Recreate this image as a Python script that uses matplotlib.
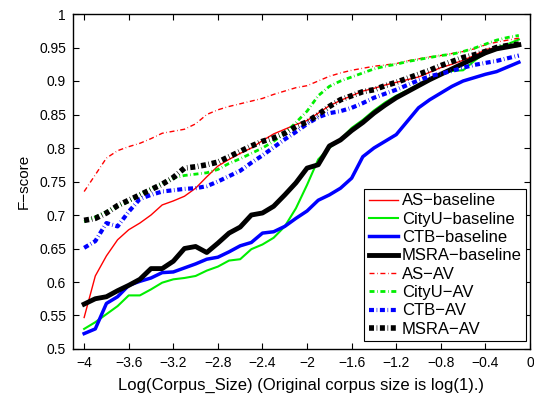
import numpy as np
import matplotlib
matplotlib.use("Agg")
import matplotlib.pyplot as plt

plt.rcParams['font.family'] = ['Liberation Sans', 'DejaVu Sans']
plt.rcParams['font.size'] = 10
plt.rcParams['lines.scale_dashes'] = False

log_size = [-4.0, -3.9, -3.8, -3.7, -3.6, -3.5, -3.4, -3.3, -3.2, -3.1,
            -3.0, -2.9, -2.8, -2.7, -2.6, -2.5, -2.4, -2.3, -2.2, -2.1,
            -2.0, -1.9, -1.8, -1.7, -1.6, -1.5, -1.4, -1.3, -1.2, -1.1,
            -1.0, -0.9, -0.8, -0.7, -0.6, -0.5, -0.4, -0.3, -0.2, -0.1]

as_baseline = [0.547, 0.609, 0.639, 0.663, 0.678, 0.688, 0.700, 0.715, 0.721, 0.728,
               0.740, 0.757, 0.773, 0.783, 0.792, 0.800, 0.811, 0.821, 0.828, 0.835,
               0.841, 0.852, 0.863, 0.871, 0.878, 0.885, 0.889, 0.894, 0.898, 0.902,
               0.906, 0.913, 0.920, 0.925, 0.931, 0.938, 0.947, 0.950, 0.953, 0.956]
cityu_baseline = [0.530, 0.540, 0.552, 0.564, 0.580, 0.580, 0.589, 0.599, 0.604, 0.606,
                  0.609, 0.617, 0.623, 0.632, 0.634, 0.649, 0.656, 0.666, 0.683, 0.710,
                  0.745, 0.783, 0.800, 0.813, 0.830, 0.842, 0.856, 0.868, 0.878, 0.886,
                  0.895, 0.903, 0.910, 0.915, 0.916, 0.930, 0.942, 0.950, 0.955, 0.962]
ctb_baseline = [0.523, 0.530, 0.568, 0.578, 0.595, 0.601, 0.606, 0.614, 0.615, 0.621,
                0.627, 0.634, 0.637, 0.645, 0.654, 0.659, 0.673, 0.675, 0.683, 0.695,
                0.706, 0.722, 0.730, 0.740, 0.755, 0.787, 0.800, 0.810, 0.820, 0.840,
                0.860, 0.872, 0.882, 0.892, 0.900, 0.905, 0.910, 0.914, 0.921, 0.928]
msra_baseline = [0.567, 0.575, 0.578, 0.587, 0.595, 0.604, 0.620, 0.620, 0.631, 0.650,
                 0.653, 0.644, 0.658, 0.673, 0.682, 0.700, 0.703, 0.713, 0.730, 0.748,
                 0.770, 0.775, 0.803, 0.812, 0.826, 0.838, 0.852, 0.864, 0.875, 0.884,
                 0.893, 0.902, 0.910, 0.918, 0.926, 0.934, 0.942, 0.948, 0.951, 0.954]
as_av = [0.735, 0.760, 0.785, 0.796, 0.802, 0.807, 0.814, 0.822, 0.825, 0.828,
         0.836, 0.850, 0.857, 0.862, 0.866, 0.870, 0.874, 0.880, 0.885, 0.890,
         0.893, 0.900, 0.907, 0.912, 0.916, 0.919, 0.922, 0.924, 0.926, 0.930,
         0.933, 0.936, 0.938, 0.941, 0.944, 0.948, 0.954, 0.958, 0.961, 0.964]
cityu_av = [0.690, 0.697, 0.705, 0.713, 0.720, 0.731, 0.739, 0.747, 0.755, 0.759,
            0.761, 0.763, 0.768, 0.777, 0.784, 0.792, 0.800, 0.810, 0.822, 0.838,
            0.855, 0.878, 0.892, 0.900, 0.906, 0.912, 0.918, 0.922, 0.925, 0.929,
            0.932, 0.935, 0.938, 0.940, 0.944, 0.949, 0.955, 0.961, 0.965, 0.968]
ctb_av = [0.651, 0.661, 0.688, 0.683, 0.705, 0.724, 0.730, 0.735, 0.737, 0.739,
          0.740, 0.743, 0.750, 0.758, 0.766, 0.778, 0.789, 0.801, 0.813, 0.824,
          0.836, 0.846, 0.852, 0.855, 0.860, 0.867, 0.875, 0.881, 0.887, 0.894,
          0.901, 0.907, 0.911, 0.915, 0.920, 0.924, 0.927, 0.930, 0.934, 0.938]
msra_av = [0.692, 0.695, 0.703, 0.714, 0.722, 0.730, 0.738, 0.746, 0.756, 0.770,
           0.772, 0.775, 0.779, 0.787, 0.795, 0.803, 0.810, 0.815, 0.822, 0.832,
           0.839, 0.850, 0.862, 0.872, 0.878, 0.884, 0.887, 0.893, 0.898, 0.904,
           0.910, 0.916, 0.923, 0.929, 0.935, 0.939, 0.944, 0.950, 0.953, 0.955]

x_ticks = [-4, -3.6, -3.2, -2.8, -2.4, -2, -1.6, -1.2, -0.8, -0.4, 0]
x_tick_labels = ['\u22124', '\u22123.6', '\u22123.2', '\u22122.8', '\u22122.4', '\u22122',
                 '\u22121.6', '\u22121.2', '\u22120.8', '\u22120.4', '0']
y_ticks = [0.5, 0.55, 0.6, 0.65, 0.7, 0.75, 0.8, 0.85, 0.9, 0.95, 1]
y_tick_labels = ['0.5', '0.55', '0.6', '0.65', '0.7', '0.75', '0.8', '0.85', '0.9', '0.95', '1']

fig = plt.figure(figsize=(5.34, 3.96), dpi=100)
ax = fig.add_axes([73 / 534, 47 / 396, 457 / 534, 335 / 396])

# solid baselines
series = [
    ('AS\u2212baseline', as_baseline, 'red', 1.0),
    ('CityU\u2212baseline', cityu_baseline, '#00ee00', 1.5),
    ('CTB\u2212baseline', ctb_baseline, 'blue', 2.5),
    ('MSRA\u2212baseline', msra_baseline, 'black', 3.5),
]
for label, ys, color, lw in series:
    ax.plot(log_size, ys, color=color, linestyle='-', linewidth=lw, label=label)

# dash-dot AV curves (dash pattern in points, not scaled by width)
dashdot = (0, (3.6, 1.9, 0.45, 1.9))
av_series = [
    ('AS\u2212AV', as_av, 'red', 1.0),
    ('CityU\u2212AV', cityu_av, '#00ee00', 2.0),
    ('CTB\u2212AV', ctb_av, 'blue', 3.0),
    ('MSRA\u2212AV', msra_av, 'black', 4.0),
]
for label, ys, color, lw in av_series:
    ax.plot(log_size, ys, color=color, linestyle=dashdot, linewidth=lw,
            label=label, dash_capstyle='butt')

ax.set_xlim(-4.1, 0)
ax.set_ylim(0.5, 1)
ax.set_xticks(x_ticks)
ax.set_xticklabels(x_tick_labels)
ax.set_yticks(y_ticks)
ax.set_yticklabels(y_tick_labels)
ax.tick_params(direction='in', top=True, right=True, length=4, width=0.8,
               labelsize=10, pad=5)
for sp in ax.spines.values():
    sp.set_linewidth(1.0)

ax.set_xlabel('Log(Corpus_Size) (Original corpus size is log(1).)', fontsize=12, labelpad=6)
ax.set_ylabel('F\u2212score', fontsize=11, labelpad=6)

leg = ax.legend(loc='lower right', bbox_to_anchor=(0.991, 0.024), fontsize=12,
                frameon=True, fancybox=False, edgecolor='black', framealpha=1,
                borderpad=0.25, labelspacing=0.2, handlelength=1.75,
                handletextpad=0.25, borderaxespad=0.0)
leg.get_frame().set_linewidth(0.8)

fig.savefig('out.png', dpi=100)
